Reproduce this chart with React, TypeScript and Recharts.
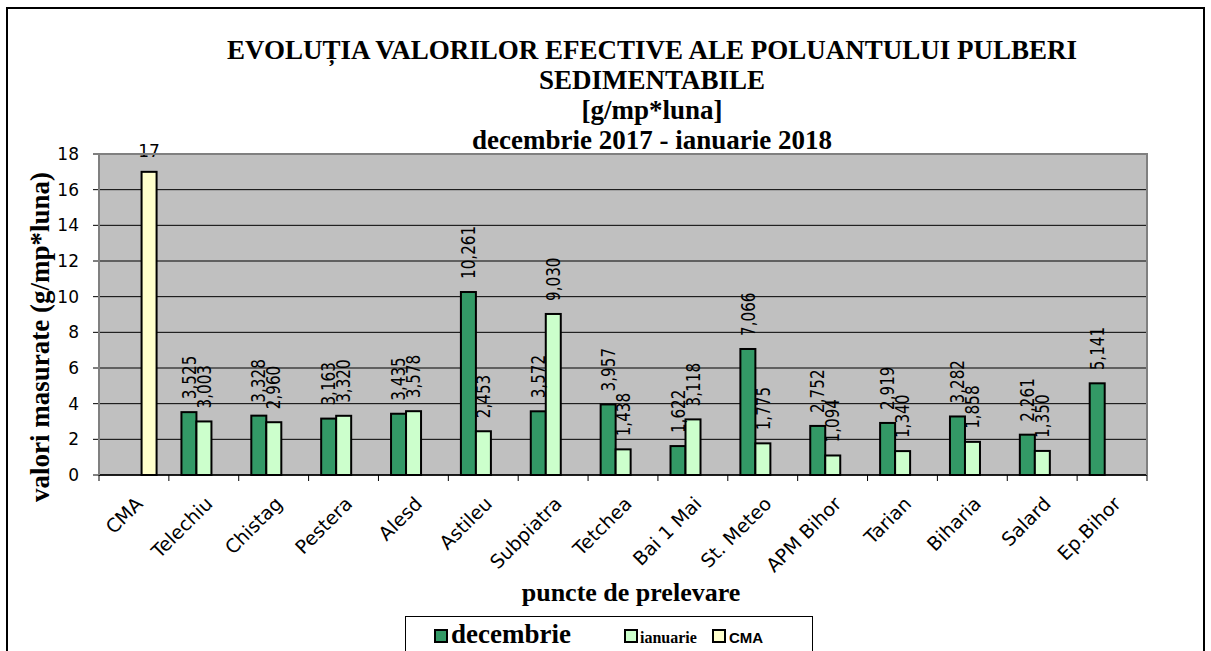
import React from 'react';
import { BarChart, Bar, XAxis, YAxis, CartesianGrid, LabelList } from 'recharts';

// puncte de prelevare
const categories = [
  'CMA', 'Telechiu', 'Chistag', 'Pestera', 'Alesd', 'Astileu', 'Subpiatra', 'Tetchea',
  'Bai 1 Mai', 'St. Meteo', 'APM Bihor', 'Tarian', 'Biharia', 'Salard', 'Ep.Bihor',
];
const decembrie = [null, 3.525, 3.328, 3.163, 3.435, 10.261, 3.572, 3.957, 1.622, 7.066, 2.752, 2.919, 3.282, 2.261, 5.141];
const ianuarie = [null, 3.003, 2.96, 3.32, 3.578, 2.453, 9.03, 1.438, 3.118, 1.775, 1.094, 1.34, 1.858, 1.35, null];
const cma = [17, null, null, null, null, null, null, null, null, null, null, null, null, null, null];
const yTicks = [0, 2, 4, 6, 8, 10, 12, 14, 16, 18];

const titleLines = [
  'EVOLUȚIA VALORILOR EFECTIVE ALE POLUANTULUI PULBERI',
  'SEDIMENTABILE',
  '[g/mp*luna]',
  'decembrie 2017 - ianuarie 2018',
];

const data = categories.map((name, i) => ({
  name,
  decembrie: decembrie[i],
  ianuarie: ianuarie[i],
  cma: cma[i],
}));

const W = 1211;
const H = 651;
const PLOT_LEFT = 99;
const PLOT_RIGHT = 1147;
const PLOT_TOP = 154;
const PLOT_BOTTOM = 475;
const BAND = (PLOT_RIGHT - PLOT_LEFT) / categories.length;

const SERIF = '"Liberation Serif", "Times New Roman", serif';
const SANS = '"DejaVu Sans", Verdana, sans-serif';

const fmt = (v: number) => v.toFixed(3).replace('.', ',');

const BoxBar = (props: any) => {
  const { x, y, width, height, fill } = props;
  if (!height || height <= 0 || isNaN(height)) return null;
  return <rect x={x} y={y} width={width} height={height} fill={fill} stroke="#000" strokeWidth={2} />;
};

const VerticalLabel = (props: any) => {
  const { x, y, width, value } = props;
  if (value == null) return null;
  const cx = Number(x) + Number(width) / 2;
  return (
    <text
      transform={`translate(${cx},${Number(y) - 13}) rotate(-90) scale(0.8,1)`}
      textAnchor="start"
      dominantBaseline="central"
      fontSize={19}
      fontFamily={SANS}
      fill="#000"
    >
      {fmt(Number(value))}
    </text>
  );
};

const CmaLabel = (props: any) => {
  const { x, y, width, value } = props;
  if (value == null) return null;
  return (
    <text x={Number(x) + Number(width) / 2} y={Number(y) - 15} textAnchor="middle" fontSize={17} fontFamily={SANS} fill="#000">
      {value}
    </text>
  );
};

const CategoryTick = (props: any) => {
  const { x, y, payload, index } = props;
  const half = BAND / 2;
  return (
    <g>
      <line x1={x - half} x2={x - half} y1={y} y2={y + 6} stroke="#000" />
      {index === categories.length - 1 && <line x1={x + half} x2={x + half} y1={y} y2={y + 6} stroke="#000" />}
      <text
        transform={`translate(${x + 5},${y + 25}) rotate(-45)`}
        textAnchor="end"
        dominantBaseline="central"
        fontSize={19}
        fontFamily={SANS}
        fill="#000"
      >
        {payload.value}
      </text>
    </g>
  );
};

const ValueTick = (props: any) => {
  const { x, y, payload } = props;
  return (
    <text x={x} y={y} textAnchor="end" dominantBaseline="central" fontSize={17} fontFamily={SANS} fill="#000">
      {payload.value}
    </text>
  );
};

export default function App() {
  return (
    <div style={{ position: 'fixed', left: 0, top: 0, width: W, height: H, overflow: 'hidden', background: '#fff' }}>
      <div style={{ position: 'absolute', left: 0, top: 0 }}>
        <BarChart
          width={W}
          height={H}
          data={data}
          margin={{ top: PLOT_TOP, right: W - PLOT_RIGHT, left: PLOT_LEFT - 60, bottom: H - PLOT_BOTTOM - 110 }}
          barCategoryGap="18%"
          barGap={0}
        >
          <CartesianGrid fill="#C0C0C0" fillOpacity={1} stroke="#000" vertical={false} />
          <XAxis
            dataKey="name"
            height={110}
            interval={0}
            tickSize={0}
            tickMargin={0}
            tickLine={false}
            axisLine={{ stroke: '#000', strokeWidth: 1.5 }}
            tick={<CategoryTick />}
          />
          <YAxis
            width={60}
            domain={[0, 18]}
            ticks={yTicks}
            interval={0}
            tickSize={6}
            tickMargin={14}
            tickLine={{ stroke: '#000' }}
            axisLine={false}
            tick={<ValueTick />}
          />
          <Bar dataKey="decembrie" fill="#339966" shape={<BoxBar />} isAnimationActive={false}>
            <LabelList dataKey="decembrie" content={<VerticalLabel />} />
          </Bar>
          <Bar dataKey="ianuarie" fill="#CCFFCC" shape={<BoxBar />} isAnimationActive={false}>
            <LabelList dataKey="ianuarie" content={<VerticalLabel />} />
          </Bar>
          <Bar dataKey="cma" fill="#FFFFCC" shape={<BoxBar />} isAnimationActive={false}>
            <LabelList dataKey="cma" content={<CmaLabel />} />
          </Bar>
        </BarChart>
      </div>
      <svg width={W} height={H} style={{ position: 'absolute', left: 0, top: 0, pointerEvents: 'none' }}>
        <rect x={7} y={8} width={1197} height={700} fill="none" stroke="#000" strokeWidth={2} />
        <path
          d={`M${PLOT_LEFT},${PLOT_BOTTOM} V${PLOT_TOP} H${PLOT_RIGHT} V${PLOT_BOTTOM}`}
          fill="none"
          stroke="#808080"
          strokeWidth={2}
        />
        {titleLines.map((t, i) => (
          <text
            key={t}
            x={652}
            y={59 + i * 30}
            textAnchor="middle"
            fontSize={27}
            fontWeight="bold"
            fontFamily={SERIF}
            fill="#000"
          >
            {t}
          </text>
        ))}
        <text
          transform="translate(49,337) rotate(-90)"
          textAnchor="middle"
          fontSize={27}
          fontWeight="bold"
          fontFamily={SERIF}
          fill="#000"
        >
          valori masurate (g/mp*luna)
        </text>
        <text x={631} y={601} textAnchor="middle" fontSize={26} fontWeight="bold" fontFamily={SERIF} fill="#000">
          puncte de prelevare
        </text>
        <rect x={405.5} y={616.5} width={407} height={60} fill="#fff" stroke="#000" strokeWidth={1} />
        <rect x={435} y={630} width={12} height={12} fill="#339966" stroke="#000" strokeWidth={2} />
        <text x={451} y={643} fontSize={27} fontWeight="bold" fontFamily={SERIF} fill="#000">decembrie</text>
        <rect x={625} y={630} width={12} height={12} fill="#CCFFCC" stroke="#000" strokeWidth={2} />
        <text x={640} y={643} fontSize={16} fontWeight="bold" fontFamily={SERIF} fill="#000">ianuarie</text>
        <rect x={713} y={630} width={12} height={12} fill="#FFFFCC" stroke="#000" strokeWidth={2} />
        <text x={729} y={643} fontSize={15} fontWeight="bold" fontFamily={'"Liberation Sans", Arial, sans-serif'} fill="#000">CMA</text>
      </svg>
    </div>
  );
}
